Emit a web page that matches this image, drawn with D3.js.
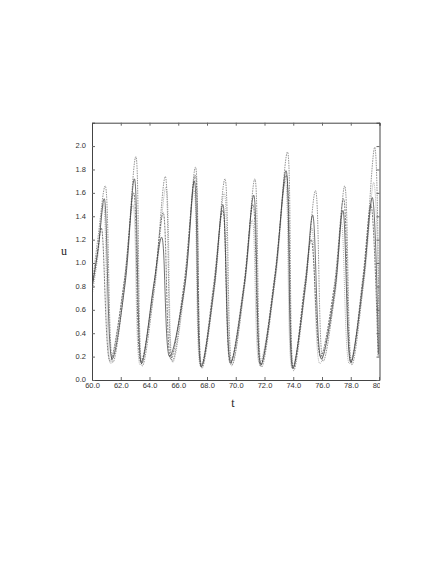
<!DOCTYPE html>
<html><head><meta charset="utf-8">
<script src="https://cdn.jsdelivr.net/npm/d3@7"></script>
<style>body{margin:0;background:#fff;}svg{display:block;}</style>
</head><body>
<script>
const xTicks = [60,62,64,66,68,70,72,74,76,78,80];
const xTickLabels = ["60.0","62.0","64.0","66.0","68.0","70.0","72.0","74.0","76.0","78.0","80.0"];
const yTicks = [0,0.2,0.4,0.6,0.8,1.0,1.2,1.4,1.6,1.8,2.0];
const yTickLabels = ["0.0","0.2","0.4","0.6","0.8","1.0","1.2","1.4","1.6","1.8","2.0"];
const xTitle = "t";
const yTitle = "u";

const seriesA = [[60,0.78],[60.45,1.15],[60.85,1.55],[61.4,0.18],
 [62.3,0.82],[62.95,1.72],[63.45,0.14],
 [64.3,0.82],[64.85,1.22],[65.4,0.2],
 [66.45,0.8],[67.12,1.7],[67.6,0.11],
 [68.5,0.8],[69.1,1.5],[69.65,0.15],
 [70.6,0.82],[71.25,1.58],[71.75,0.13],
 [72.75,0.9],[73.5,1.79],[73.97,0.1],
 [74.85,0.82],[75.35,1.41],[75.95,0.18],
 [76.9,0.78],[77.45,1.45],[78.0,0.15],
 [78.9,0.88],[79.5,1.56],[79.93,0.22]];

const seriesB = [[60,0.8],[60.45,1.25],[60.92,1.66],[61.45,0.15],
 [62.3,0.85],[63.05,1.91],[63.5,0.12],
 [64.35,0.8],[65.1,1.74],[65.58,0.16],
 [66.45,0.82],[67.2,1.82],[67.65,0.10],
 [68.5,0.78],[69.25,1.72],[69.75,0.13],
 [70.6,0.8],[71.33,1.72],[71.8,0.11],
 [72.75,0.88],[73.6,1.95],[74.03,0.08],
 [74.85,0.8],[75.55,1.62],[76.08,0.16],
 [76.9,0.75],[77.58,1.66],[78.08,0.13],
 [78.9,0.85],[79.67,1.99],[79.97,0.2]];

const seriesC = [[60,0.72],[60.4,1.05],[60.8,1.5],[61.3,0.14],
 [62.2,0.8],[62.85,1.5],[63.35,0.13],
 [64.35,0.78],[65.15,1.65],[65.62,0.15],
 [66.45,0.78],[67.1,1.62],[67.55,0.12],
 [68.5,0.76],[69.2,1.6],[69.7,0.12],
 [70.6,0.78],[71.15,1.37],[71.65,0.14],
 [72.75,0.85],[73.45,1.7],[73.92,0.1],
 [74.85,0.78],[75.3,1.3],[75.85,0.14],
 [76.9,0.72],[77.35,1.35],[77.9,0.14],
 [78.9,0.82],[79.6,1.69],[80,0.25]];

const seriesD = [[60,0.8],[60.35,1.05],[60.65,1.3],[61.25,0.16],
 [62.25,0.85],[62.9,1.6],[63.4,0.15],
 [64.3,0.8],[64.95,1.43],[65.48,0.18],
 [66.4,0.82],[67.18,1.75],[67.62,0.12],
 [68.45,0.8],[69.1,1.45],[69.62,0.14],
 [70.55,0.8],[71.2,1.5],[71.72,0.12],
 [72.7,0.88],[73.52,1.75],[74.0,0.1],
 [74.8,0.82],[75.25,1.2],[75.9,0.2],
 [76.85,0.8],[77.5,1.55],[78.02,0.15],
 [78.85,0.88],[79.4,1.5],[79.9,0.2]];

const series = [
  {data: seriesC, color: "#b0b0b0", dash: "1,1", w: 1},
  {data: seriesB, color: "#888", dash: "1.5,1", w: 0.9},
  {data: seriesD, color: "#555", dash: "2,1", w: 0.8},
  {data: seriesA, color: "#333", dash: null, w: 0.7}
];

const W = 443, H = 573;
const m = {left: 92, right: 379.5, top: 122.7, bottom: 380};
const svg = d3.select("body").append("svg").attr("width", W).attr("height", H);
svg.append("rect").attr("width", W).attr("height", H).attr("fill", "#fff");

const x = d3.scaleLinear().domain([60,80]).range([m.left, m.right]);
const y = d3.scaleLinear().domain([0,2.2]).range([m.bottom, m.top]);

const defs = svg.append("defs");
defs.append("clipPath").attr("id","plot").append("rect")
  .attr("x", m.left).attr("y", m.top).attr("width", m.right-m.left).attr("height", m.bottom-m.top);
defs.append("clipPath").attr("id","xlab").append("rect")
  .attr("x", 0).attr("y", m.bottom - 5).attr("width", m.right+0.5).attr("height", 40);

const line = d3.line().x(d => x(d[0])).y(d => y(d[1])).curve(d3.curveCatmullRom.alpha(0.5));
const g = svg.append("g").attr("clip-path","url(#plot)");
series.forEach(s => {
  g.append("path").attr("d", line(s.data)).attr("fill","none")
    .attr("stroke", s.color).attr("stroke-width", s.w)
    .attr("stroke-dasharray", s.dash);
});

const font = "Liberation Sans, Arial, sans-serif";
const wrapB = svg.append("g").attr("clip-path","url(#xlab)");
const axB = wrapB.append("g").attr("transform",`translate(0,${m.bottom})`)
  .call(d3.axisBottom(x).tickValues(xTicks).tickSize(-3).tickFormat((d,i)=>xTickLabels[i]).tickPadding(3));
const axT = svg.append("g").attr("transform",`translate(0,${m.top})`)
  .call(d3.axisTop(x).tickValues(xTicks).tickSize(-3).tickFormat(""));
const axL = svg.append("g").attr("transform",`translate(${m.left},0)`)
  .call(d3.axisLeft(y).tickValues(yTicks).tickSize(-3).tickFormat((d,i)=>yTickLabels[i]).tickPadding(6));
const axR = svg.append("g").attr("transform",`translate(${m.right},0)`)
  .call(d3.axisRight(y).tickValues(yTicks).tickSize(-3).tickFormat(""));
[axB,axT,axL,axR].forEach(a => {
  a.selectAll(".domain").attr("stroke","#444").attr("stroke-width",1);
  a.selectAll(".tick line").attr("stroke","#666");
  a.selectAll("text").attr("font-family", font).attr("font-size", "7.5px").attr("fill","#333");
});
axB.selectAll("text").attr("dy","0.6em");
axL.selectAll("text").attr("dy","0.25em");

svg.append("text").attr("x", 64).attr("y", 255).attr("text-anchor","middle")
  .attr("font-family","Liberation Serif, Times New Roman, serif").attr("font-size","12px").attr("fill","#222").text(yTitle);
svg.append("text").attr("x", 233).attr("y", 407).attr("text-anchor","middle")
  .attr("font-family","Liberation Serif, Times New Roman, serif").attr("font-size","12px").attr("fill","#222").text(xTitle);
</script>
</body></html>
